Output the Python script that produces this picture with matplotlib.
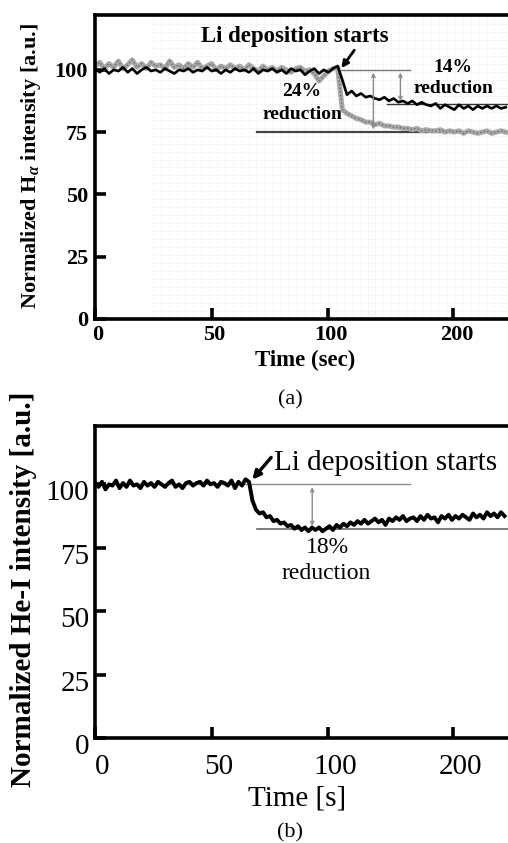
import numpy as np
import matplotlib
matplotlib.use("Agg")
import matplotlib.pyplot as plt
from matplotlib.transforms import ScaledTranslation

plt.rcParams['font.family'] = ['Liberation Serif', 'DejaVu Serif']
plt.rcParams['mathtext.fontset'] = 'custom'
plt.rcParams['mathtext.rm'] = 'Liberation Serif:bold'
plt.rcParams['mathtext.it'] = 'Liberation Serif:italic:bold'
plt.rcParams['mathtext.bf'] = 'Liberation Serif:bold'

# ---- panel (a): H-alpha, two shots (sampled every 2 axis units) ----
t_a = np.arange(0, 178, 2)
halpha_black = [
    100.5, 99.0, 100.5, 98.5, 100.0, 99.5, 101.0, 99.0, 100.5, 98.5,
    100.0, 101.0, 99.5, 100.0, 99.0, 100.5, 99.5, 98.5, 100.0, 99.5,
    100.5, 99.0, 100.0, 99.5, 101.0, 99.5, 100.0, 98.5, 100.0, 99.0,
    100.5, 99.5, 100.0, 99.0, 100.5, 98.5, 100.0, 99.5, 100.5, 99.0,
    100.0, 98.5, 100.5, 99.5, 100.0, 98.0, 99.5, 100.5, 98.5, 100.0,
    99.0, 100.5, 101.5,
    96.0, 90.0, 91.5, 89.5, 90.5, 89.0, 89.5, 88.5, 88.0, 89.0,
    87.5, 88.5, 87.0, 87.5, 86.5, 87.5, 86.0, 87.0, 86.0, 85.5,
    86.5, 84.5, 86.0, 85.0, 84.0, 86.0, 84.5, 85.5, 84.0, 85.5,
    84.5, 85.5, 84.5, 85.5, 84.5, 85.0,
]
halpha_gray = [
    101.5, 103.0, 100.5, 102.5, 101.0, 103.5, 100.5, 102.0, 104.0, 101.0,
    102.5, 100.5, 103.0, 101.5, 102.0, 100.5, 103.5, 101.0, 102.0, 100.5,
    102.5, 101.0, 103.0, 100.5, 101.5, 102.5, 100.0, 101.5, 100.5, 102.0,
    100.5, 101.5, 100.0, 102.0, 100.5, 99.5, 101.5, 100.0, 101.0, 99.5,
    101.0, 100.0, 99.0, 100.5, 101.0, 99.5, 100.0, 98.5, 95.5, 97.5,
    99.5, 100.5, 101.0,
    84.0, 82.5, 81.5, 80.5, 80.0, 79.0, 79.0, 78.0, 78.5, 77.5,
    77.5, 77.0, 77.0, 76.5, 76.5, 76.0, 76.5, 75.5, 76.0, 75.5,
    75.5, 76.0, 75.0, 75.5, 75.0, 75.5, 74.5, 75.5, 75.0, 74.5,
    75.0, 75.5, 74.5, 75.0, 75.5, 75.0,
]

# ---- panel (b): He-I (sampled every 1.5 axis units) ----
t_b = np.arange(0, 177, 1.5)
hei = [
    100.5, 99.0, 101.0, 98.0, 100.0, 99.5, 101.5, 98.5, 100.5, 99.0,
    101.5, 99.5, 100.0, 98.5, 101.0, 99.5, 100.5, 99.0, 101.0, 100.0,
    99.0, 100.5, 101.5, 99.0, 100.0, 98.5, 100.5, 101.0, 99.5, 100.5,
    101.0, 99.5, 101.5, 100.0, 100.5, 99.0, 101.0, 100.5, 99.5, 101.5,
    98.5, 101.0, 99.5, 102.0,
    101.0, 93.5, 90.0, 88.5, 89.0, 87.0, 87.5, 85.5, 86.0, 84.5,
    85.0, 83.5, 84.0, 82.5, 83.5, 82.0, 83.0, 81.5, 83.0, 82.0,
    83.0, 81.5, 82.5, 83.5, 82.0, 84.0, 83.0, 84.5, 83.5, 85.0,
    84.0, 85.5, 84.5, 86.0, 84.5, 85.5, 86.5, 85.0, 86.0, 84.0,
    86.5, 85.5, 87.0, 86.0, 87.5, 85.5, 86.5, 87.0, 85.5, 87.5,
    86.0, 88.0, 86.5, 87.0, 85.0, 87.5, 86.5, 88.0, 86.0, 87.5,
    86.5, 88.0, 87.0, 86.0, 88.5, 87.0, 88.0, 86.5, 89.0, 87.5,
    88.5, 87.0, 89.0, 87.5,
]

x_ticks = [0, 50, 100, 153.6]
x_ticklabels = ['0', '50', '100', '200']
y_ticks = [0, 25, 50, 75, 100]

fig = plt.figure(figsize=(5.08, 8.43), dpi=100)
ax1 = fig.add_axes([95 / 508, 1 - 319 / 843, 413 / 508, 304 / 843])
ax2 = fig.add_axes([95 / 508, 1 - 738 / 843, 413 / 508, 312 / 843])


def style_axes(ax, ymax, fs, weight):
    ax.set_xlim(0, 177)
    ax.set_ylim(0, ymax)
    for s in ['left', 'bottom', 'top']:
        ax.spines[s].set_linewidth(2.6)
    ax.spines['right'].set_visible(False)
    ax.set_xticks(x_ticks)
    ax.set_xticklabels(x_ticklabels)
    ax.set_yticks(y_ticks)
    ax.tick_params(direction='in', length=8, width=2.6, labelsize=fs)
    for lab in ax.get_xticklabels() + ax.get_yticklabels():
        lab.set_fontweight(weight)


def nudge(labels, dx, dy):
    # shift tick labels by a few pixels, as in the scanned figure
    off = ScaledTranslation(dx / 100, dy / 100, fig.dpi_scale_trans)
    for lab in labels:
        lab.set_transform(lab.get_transform() + off)


# ---------- (a) ----------
style_axes(ax1, 122, 16, 'bold')
ax1.tick_params(axis='x', pad=4)
ax1.tick_params(axis='y', pad=5)
nudge(ax1.get_xticklabels(), 3, 0)

# faint dotted background grid
for gy in np.arange(3.2, 122, 3.2):
    ax1.plot([25, 177], [gy, gy], color='#e8e8e8', lw=0.6, ls=':', zorder=0)
for gx in np.arange(25, 177, 3.4):
    ax1.plot([gx, gx], [0, 122], color='#e8e8e8', lw=0.6, ls=':', zorder=0)

ax1.plot(t_a, halpha_gray, color='#a8a8a8', lw=3.6, zorder=2)
ax1.plot(t_a, halpha_gray, color='#6a6a6a', lw=1.0, ls=':', zorder=2)
ax1.plot(t_a, halpha_black, color='black', lw=1.9, zorder=3)

ax1.plot([105.6, 134.8], [100, 100], color='#777777', lw=1.0, zorder=1)
ax1.plot([125.3, 177], [86.3, 86.3], color='#333333', lw=1.0, zorder=1)
ax1.plot([69.5, 177], [75, 75], color='#444444', lw=1.6, zorder=1)
ax1.annotate('', xy=(119.3, 75), xytext=(119.3, 100),
             arrowprops=dict(arrowstyle='<->', color='#8a8a8a', lw=1.0, mutation_scale=6))
ax1.annotate('', xy=(130.9, 86.3), xytext=(130.9, 100),
             arrowprops=dict(arrowstyle='<->', color='#8a8a8a', lw=1.0, mutation_scale=6))

ax1.annotate('Li deposition starts', xy=(105.6, 100.7), xytext=(85.8, 113.2),
             ha='center', va='center', fontsize=16.5, fontweight='bold',
             arrowprops=dict(arrowstyle='-|>', color='black', lw=2.0,
                             mutation_scale=10, shrinkA=0, shrinkB=0,
                             relpos=(0.83, 0.05)))
ax1.text(153.2, 101.1, '14%', ha='center', va='center', fontsize=14, fontweight='bold')
ax1.text(153.6, 92.7, 'reduction', ha='center', va='center', fontsize=14, fontweight='bold')
ax1.text(88.4, 91.1, '24%', ha='center', va='center', fontsize=14, fontweight='bold')
ax1.text(88.8, 81.9, 'reduction', ha='center', va='center', fontsize=14, fontweight='bold')

ax1.set_ylabel(r'Normalized H$_{\alpha}$ intensity [a.u.]', fontsize=16,
               fontweight='bold', va='center', ha='center')
ax1.yaxis.set_label_coords(-0.155, 0.503)
ax1.set_xlabel('Time (sec)', fontsize=16.5, fontweight='bold', va='center', ha='center')
ax1.xaxis.set_label_coords(0.508, -0.135)

# ---------- (b) ----------
style_axes(ax2, 123, 21, 'normal')
ax2.tick_params(axis='x', pad=6)
ax2.tick_params(axis='y', pad=4)
nudge(ax2.get_xticklabels(), 7, -8)
nudge(ax2.get_yticklabels(), 0, -6)

ax2.plot(t_b, hei, color='black', lw=2.8, zorder=3)
ax2.plot([0, 135.2], [100, 100], color='#888888', lw=1.0, zorder=1)
ax2.plot([69.5, 177], [82.3, 82.3], color='#666666', lw=1.2, zorder=1)
ax2.annotate('', xy=(93.1, 82.5), xytext=(93.1, 100),
             arrowprops=dict(arrowstyle='<->', color='#8a8a8a', lw=1.0, mutation_scale=6))

ax2.annotate('Li deposition starts', xy=(67.4, 101.9), xytext=(124.5, 108.6),
             ha='center', va='center', fontsize=21,
             arrowprops=dict(arrowstyle='-|>', color='black', lw=2.4,
                             mutation_scale=12, shrinkA=0, shrinkB=0,
                             relpos=(-0.01, 0.72)))
ax2.text(99.6, 75.0, '18%', ha='center', va='center', fontsize=17)
ax2.text(99.1, 64.8, 'reduction', ha='center', va='center', fontsize=17)

ax2.set_ylabel('Normalized He-I intensity [a.u.]', fontsize=21, fontweight='bold',
               va='center', ha='center')
ax2.yaxis.set_label_coords(-0.174, 0.478)
ax2.set_xlabel('Time [s]', fontsize=21, va='center', ha='center')
ax2.xaxis.set_label_coords(0.489, -0.194)

fig.text(290 / 508, 1 - 400 / 843, '(a)', ha='center', va='center', fontsize=16)
fig.text(290 / 508, 1 - 833 / 843, '(b)', ha='center', va='center', fontsize=16)

fig.savefig('out.png', dpi=100)
